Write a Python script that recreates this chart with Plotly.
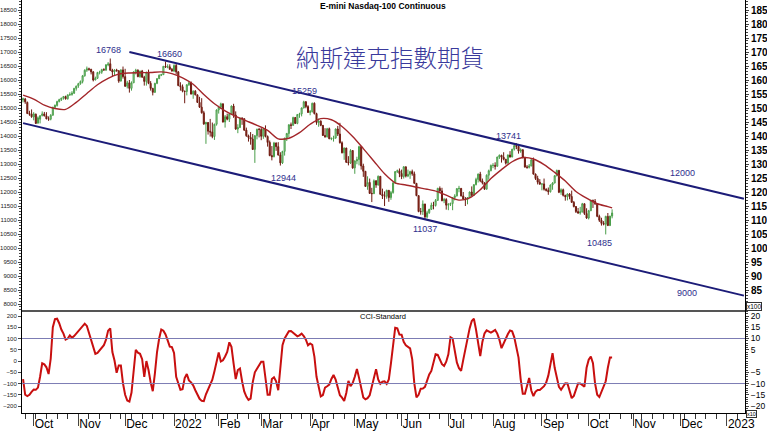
import pandas as pd
import plotly.graph_objects as go

# Trading sessions (weekdays) from the first bar through the end of the visible axis
sessions = pd.bdate_range("2021-09-24", "2023-01-31")

def pos(d):
    return int(sessions.searchsorted(pd.Timestamp(d)))

# Daily OHLC, E-mini Nasdaq-100 continuous (Sep 24 2021 - Oct 18 2022)
opens = (
    [15290, 15320, 15200, 14800, 14790]
    + [14680, 14780, 14460, 14600, 14730, 14790, 14720, 14610, 14600, 14740, 15020, 15090, 15230, 15300, 15350, 15410, 15330, 15470, 15480, 15530, 15700]
    + [15790, 15870, 15950, 16150, 16350, 16400, 16380, 16290, 16000, 16060, 16270, 16280, 16370, 16360, 16540, 16580, 16350, 16290, 16360, 16330, 15960, 16360]
    + [16120, 15780, 15900, 15700, 15900, 16290, 16350, 16120, 16320, 16100, 15950, 16270, 15880, 15700, 15560, 15880, 16050, 16170, 16190, 16490, 16460, 16470, 16380]
    + [16320, 16520, 16290, 15800, 15760, 15600, 15590, 15830, 15900, 15500, 15600, 15470, 15200, 15030, 14830, 14430, 14480, 14170, 14140, 13980, 14420]
    + [14930, 15030, 15150, 14500, 14690, 14600, 14780, 15070, 14750, 14250, 14300, 14640, 14620, 14210, 14010, 13950, 13890, 13520, 14010, 14240]
    + [14230, 13990, 14250, 13980, 13770, 13300, 13260, 13750, 13620, 13320, 13040, 13450, 13920, 14090, 14400, 14380, 14660, 14450, 14770, 14790, 15000, 15220, 15050]
    + [14840, 14870, 15170, 14800, 14480, 14530, 14380, 14020, 13970, 14260, 13900, 13910, 13930, 14250, 14070, 13760, 13400, 13570, 13060, 13040, 13480]
    + [12860, 13110, 13160, 13620, 12930, 12740, 12200, 12340, 11950, 11940, 12400, 12250, 12560, 11920, 11860, 11850, 12060, 11800, 11980, 12320, 12730, 12760]
    + [12660, 12550, 12900, 12570, 12630, 12730, 12650, 12310, 11870, 11300, 11300, 11570, 11110, 11260, 11380, 11530, 11520, 11700, 12130, 12040, 11690, 11730]
    + [11530, 11560, 11590, 11800, 11860, 12120, 12130, 11860, 11750, 11730, 11800, 12000, 11880, 12260, 12450, 12640, 12400, 12330, 12100, 12600, 12760]
    + [12950, 12950, 12920, 13250, 13310, 13240, 13170, 13030, 13320, 13250, 13530, 13660, 13630, 13460, 13510, 13240, 12890, 12880, 12930, 13150, 12640, 12480, 12350]
    + [12280, 12290, 12100, 12060, 12010, 12250, 12320, 12580, 12770, 11990, 12080, 11880, 11830, 11930, 11840, 11630, 11480, 11300, 11250, 11290, 11580, 11230]
    + [11070, 11330, 11700, 11670, 11580, 11130, 10990, 10880, 10850, 11130, 10800, 11140]
)
highs = (
    [15370, 15360, 15230, 14900, 14950]
    + [14850, 14800, 14700, 14750, 14880, 14860, 14850, 14700, 14780, 15050, 15120, 15260, 15330, 15370, 15430, 15440, 15480, 15560, 15600, 15720, 15800]
    + [15900, 15980, 16180, 16380, 16480, 16440, 16400, 16320, 16120, 16290, 16330, 16400, 16420, 16570, 16640, 16768, 16400, 16380, 16400, 16350, 16380, 16480]
    + [16400, 15970, 16000, 15950, 16310, 16400, 16380, 16330, 16360, 16150, 16300, 16370, 15960, 15720, 15900, 16060, 16200, 16220, 16500, 16660, 16560, 16560, 16430]
    + [16560, 16580, 16320, 15920, 15840, 15620, 15850, 15970, 15950, 15630, 15640, 15480, 15400, 15350, 14900, 14510, 14500, 14610, 14480, 14440, 14950]
    + [15080, 15190, 15160, 14750, 14800, 14800, 15090, 15150, 14880, 14420, 14660, 14670, 14630, 14300, 14050, 14140, 14070, 14030, 14260, 14290]
    + [14300, 14290, 14380, 14020, 13840, 13640, 13790, 13770, 13780, 13420, 13470, 13940, 14110, 14420, 14480, 14690, 14680, 14780, 14830, 15020, 15259, 15250, 15100]
    + [14930, 15190, 15200, 14830, 14620, 14560, 14390, 14280, 14290, 14300, 13950, 14010, 14270, 14360, 14470, 13810, 13590, 13580, 13280, 13530, 13500]
    + [13130, 13260, 13650, 13640, 13010, 12750, 12560, 12480, 12150, 12450, 12420, 12590, 12570, 12120, 12020, 12080, 12070, 12040, 12360, 12740, 12800, 12840]
    + [12800, 12920, 12910, 12800, 12760, 12800, 12730, 12320, 11880, 11430, 11700, 11580, 11330, 11400, 11620, 11650, 11750, 12150, 12200, 12150, 11790, 11780]
    + [11600, 11620, 11810, 11920, 12140, 12220, 12140, 12000, 11820, 11820, 12020, 12200, 12280, 12510, 12660, 12720, 12480, 12340, 12630, 12800, 12980]
    + [13030, 13060, 13260, 13340, 13330, 13420, 13180, 13340, 13460, 13540, 13680, 13741, 13640, 13560, 13520, 13250, 12960, 13000, 13170, 13230, 12660, 12580, 12460]
    + [12300, 12480, 12130, 12160, 12270, 12350, 12600, 12800, 12790, 12130, 12120, 11900, 11950, 11960, 12050, 11680, 11500, 11430, 11470, 11610, 11590, 11420]
    + [11360, 11720, 11730, 11750, 11590, 11190, 11080, 10960, 11150, 11250, 11150, 11380]
)
lows = (
    [15200, 15150, 14790, 14720, 14650]
    + [14560, 14430, 14440, 14450, 14700, 14700, 14600, 14540, 14560, 14730, 14990, 15050, 15200, 15250, 15300, 15300, 15300, 15430, 15440, 15500, 15620]
    + [15720, 15830, 15880, 16120, 16290, 16330, 16200, 15950, 15990, 16040, 16200, 16220, 16330, 16320, 16490, 16320, 16140, 16140, 16300, 15900, 15950, 16050]
    + [15750, 15700, 15550, 15620, 15890, 16200, 16100, 16080, 16080, 15800, 15800, 15850, 15620, 15450, 15540, 15850, 16030, 16140, 16180, 16440, 16420, 16370, 16300]
    + [16280, 16200, 15780, 15620, 15560, 15170, 15450, 15790, 15480, 15330, 15450, 15180, 15000, 14800, 14400, 13720, 14050, 13980, 13920, 13860, 14370]
    + [14800, 14960, 14480, 14300, 14560, 14500, 14770, 14650, 14220, 14100, 14290, 14400, 14180, 13970, 13800, 13690, 13500, 13040, 13880, 13950]
    + [13850, 13900, 13950, 13620, 13280, 13130, 13240, 13470, 13300, 12944, 13000, 13300, 13820, 13950, 14250, 14370, 14430, 14420, 14650, 14700, 14990, 14990, 14830]
    + [14740, 14840, 14770, 14400, 14330, 14350, 14000, 13940, 13950, 13890, 13850, 13800, 13900, 14000, 13730, 13380, 13150, 13040, 12950, 13000, 12830]
    + [12650, 12990, 12950, 12800, 12540, 12180, 12080, 11930, 11640, 11930, 12150, 12230, 11900, 11750, 11500, 11760, 11650, 11720, 11940, 12300, 12680, 12530]
    + [12460, 12480, 12520, 12530, 12470, 12580, 12300, 11850, 11280, 11190, 11180, 11037, 11060, 11220, 11360, 11380, 11480, 11690, 11980, 11670, 11600, 11370]
    + [11350, 11500, 11350, 11700, 11840, 11990, 11840, 11720, 11500, 11560, 11790, 11860, 11870, 12240, 12340, 12350, 12270, 12080, 12090, 12440, 12740]
    + [12850, 12800, 12900, 13180, 13050, 13130, 12980, 13020, 13230, 13240, 13480, 13530, 13370, 13400, 13200, 12870, 12830, 12840, 12920, 12620, 12430, 12270, 12260]
    + [12060, 12050, 12020, 11900, 11980, 12080, 12310, 12560, 11960, 11900, 11840, 11690, 11700, 11740, 11610, 11450, 11250, 11220, 11190, 11270, 11180, 11040]
    + [11020, 11320, 11430, 11540, 11100, 10930, 10800, 10810, 10485, 10790, 10790, 11060]
)
closes = (
    [15330, 15220, 14800, 14780, 14690]
    + [14790, 14450, 14650, 14720, 14790, 14720, 14610, 14600, 14740, 15020, 15100, 15230, 15300, 15350, 15410, 15330, 15470, 15480, 15530, 15700, 15780]
    + [15870, 15950, 16150, 16350, 16400, 16380, 16290, 16000, 16060, 16270, 16280, 16370, 16360, 16540, 16570, 16350, 16290, 16360, 16330, 15960, 16360, 16120]
    + [15780, 15900, 15700, 15900, 16290, 16350, 16120, 16320, 16100, 15950, 16270, 15880, 15700, 15560, 15880, 16050, 16170, 16190, 16490, 16460, 16470, 16380, 16320]
    + [16520, 16290, 15800, 15760, 15600, 15590, 15830, 15900, 15500, 15600, 15470, 15200, 15030, 14830, 14430, 14480, 14170, 14140, 13980, 14420, 14930]
    + [15030, 15150, 14500, 14690, 14600, 14780, 15070, 14750, 14250, 14300, 14640, 14620, 14210, 14010, 13950, 13890, 13520, 14010, 14240, 14230]
    + [13990, 14250, 13980, 13770, 13300, 13260, 13750, 13620, 13320, 13040, 13450, 13920, 14090, 14400, 14380, 14660, 14450, 14770, 14790, 15000, 15220, 15050, 14840]
    + [14870, 15170, 14800, 14480, 14530, 14380, 14020, 13970, 14260, 13900, 13910, 13930, 14250, 14070, 13760, 13400, 13570, 13060, 13040, 13480, 12860]
    + [13110, 13160, 13620, 12930, 12740, 12200, 12340, 11950, 11940, 12400, 12250, 12560, 11920, 11860, 11850, 12060, 11800, 11980, 12320, 12730, 12760, 12660]
    + [12550, 12900, 12570, 12630, 12730, 12650, 12310, 11870, 11300, 11300, 11570, 11110, 11260, 11380, 11530, 11520, 11700, 12130, 12040, 11690, 11730, 11530]
    + [11560, 11590, 11800, 11860, 12120, 12130, 11860, 11750, 11730, 11800, 12000, 11880, 12260, 12450, 12640, 12400, 12330, 12100, 12600, 12760, 12950]
    + [12950, 12920, 13250, 13310, 13240, 13170, 13030, 13320, 13250, 13530, 13660, 13630, 13460, 13510, 13240, 12890, 12880, 12930, 13150, 12640, 12480, 12350, 12280]
    + [12290, 12100, 12060, 12010, 12250, 12320, 12580, 12770, 11990, 12080, 11880, 11830, 11930, 11840, 11630, 11480, 11300, 11250, 11290, 11580, 11230, 11070]
    + [11330, 11700, 11670, 11580, 11130, 10990, 10880, 10850, 11130, 10800, 11140, 11250]
)

# Moving average, read once a week (every 5th session) plus the last session
ma_values = [
    15460, 15320, 15100, 14980, 14950, 15200, 15520, 15830, 16060, 16210,
    16250, 16260, 16270, 16290, 16230, 16080, 15850, 15480, 15150, 14900,
    14700, 14540, 14380, 14200, 13900, 13920, 14120, 14420, 14620, 14580,
    14340, 13980, 13550, 13100, 12650, 12330, 12250, 12170, 12100, 12010,
    11850, 11710, 11790, 12080, 12480, 12800, 13080, 13230, 13180, 12980,
    12700, 12390, 12020, 11780, 11580, 11480, 11430,
]

# CCI-Standard, one value per session
cci = [
    -80, -150, -156, -150, -137, -127, -128, -118, -70, -10,
    -15, -28, -58, 10, 150, 186, 188, 168, 140, 122,
    95, 100, 114, 103, 111, 122, 130, 140, 152, 166,
    156, 125, 90, 52, 32, 36, 46, 56, 70, 95,
    135, 145, 40, 2, -52, -20, -20, -100, -150, -176,
    -180, -140, -40, 50, 37, 32, 8, -70, 0, -40,
    -95, -134, -55, 40, 100, 140, 135, 118, 92, 64,
    62, 36, -70, -104, -128, -125, -76, -58, -86, -95,
    -108, -130, -152, -168, -177, -178, -148, -125, -107, -83,
    -45, 4, 38, -2, 3, 20, 40, 83, 63, -10,
    -80, -40, -33, -90, -135, -158, -173, -167, -95, -50,
    -35, -20, -3, -3, -70, -150, -150, -80, -72, -90,
    -130, -20, 70, 100, 115, 132, 133, 125, 116, 110,
    114, 122, 111, 95, 70, 78, 72, 20, -70, -115,
    -157, -151, -118, -112, -105, -80, -62, -83, -118, -152,
    -163, -178, -142, -88, -112, -98, -70, -35, -75, -120,
    -162, -170, -165, -152, -115, -70, -36, -82, -101, -92,
    -90, -102, -82, -10, 80, 148, 145, 118, 117, 85,
    70, 62, 56, 8, -100, -162, -150, -123, -122, -115,
    -82, -60, -44, -6, 30, 27, 4, -14, -22, -3,
    30, 106, 100, 48, -6, -32, -44, 5, 55, 90,
    145, 178, 188, 140, 84, 22, 85, 123, 136, 132,
    126, 132, 138, 122, 95, 57, 80, 98, 120, 136,
    132, 105, 60, 15, -80, -146, -146, -115, -75, -131,
    -156, -136, -129, -129, -121, -112, -96, -65, -15, 35,
    -30, -80, -115, -128, -110, -99, -100, -134, -165, -155,
    -130, -100, -100, -109, -114, -30, 6, 20, -10, -100,
    -150, -160, -138, -113, -90, -30, 16, 16,
]

# Trend channel anchors (date, price)
upper_channel_dates = ["2021-12-03", "2023-01-12"]
upper_channel_values = [17000, 11760]
lower_channel_dates = ["2021-09-24", "2023-01-12"]
lower_channel_values = [14460, 8300]

# Swing highs / lows that get labelled
swing_dates = ["2021-11-22", "2021-12-28", "2022-03-29", "2022-03-14", "2022-06-16", "2022-08-16", "2022-10-13"]
swing_values = [16768, 16660, 15259, 12944, 11037, 13741, 10485]
swing_is_high = [True, True, True, False, False, True, False]

# Month axis
month_dates = ["2021-10-01", "2021-11-01", "2021-12-01", "2022-01-03", "2022-02-01", "2022-03-01",
               "2022-04-01", "2022-05-02", "2022-06-01", "2022-07-01", "2022-08-01", "2022-09-01",
               "2022-10-03", "2022-11-01", "2022-12-01", "2023-01-02"]
month_labels = ["Oct", "Nov", "Dec", "2022", "Feb", "Mar", "Apr", "May", "Jun", "Jul", "Aug", "Sep",
                "Oct", "Nov", "Dec", "2023"]

n = len(closes)
xs = list(range(n))
ma_x = list(range(0, n, 5)) + [n - 1]
month_pos = [pos(d) for d in month_dates]

NAVY = "#1c1c78"
LABEL_BLUE = "#2e2e8c"
FONT = "Liberation Sans, Arial, sans-serif"

X_RANGE = [-0.5, 339.5]
MAIN_RANGE = [7786, 18857]
CCI_RANGE = [-231, 226.7]
split = 103 / 413

fig = go.Figure()

fig.add_trace(go.Candlestick(
    x=xs, open=opens, high=highs, low=lows, close=closes,
    xaxis="x", yaxis="y",
    increasing=dict(line=dict(color="#4a9e4a", width=1), fillcolor="#bfe5bf"),
    decreasing=dict(line=dict(color="#6e1a10", width=1), fillcolor="#9a2a18"),
    whiskerwidth=0, hoverinfo="skip", name="NQ",
))

fig.add_trace(go.Scatter(
    x=ma_x, y=ma_values, mode="lines", xaxis="x", yaxis="y",
    line=dict(color="#a3262a", width=1.4, shape="spline", smoothing=0.8),
    hoverinfo="skip", name="MA",
))

fig.add_trace(go.Scatter(
    x=[pos(d) for d in upper_channel_dates], y=upper_channel_values, mode="lines",
    xaxis="x", yaxis="y", line=dict(color=NAVY, width=2), hoverinfo="skip",
))
fig.add_trace(go.Scatter(
    x=[pos(d) for d in lower_channel_dates], y=lower_channel_values, mode="lines",
    xaxis="x", yaxis="y", line=dict(color=NAVY, width=2), hoverinfo="skip",
))

fig.add_trace(go.Scatter(
    x=xs, y=cci, mode="lines", xaxis="x2", yaxis="y3",
    line=dict(color="#c80f0f", width=2), hoverinfo="skip", name="CCI",
))

# Empty traces so the right-hand scale axes (x100 / x10) get drawn
fig.add_trace(go.Scatter(x=[], y=[], xaxis="x", yaxis="y2", hoverinfo="skip"))
fig.add_trace(go.Scatter(x=[], y=[], xaxis="x2", yaxis="y4", hoverinfo="skip"))

annotations = []
shifts = [(-2, 1), (4, 1), (1, 3), (3, -5), (0, -3), (-8, 0), (-6, -2)]
for d, v, hi, (dx, dy) in zip(swing_dates, swing_values, swing_is_high, shifts):
    annotations.append(dict(
        x=pos(d), y=v, xref="x", yref="y", text=str(v), showarrow=False,
        yanchor="bottom" if hi else "top", xshift=dx, yshift=dy,
        font=dict(size=9, color=LABEL_BLUE, family=FONT),
    ))

annotations += [
    dict(x=pos("2022-12-02"), y=12680, xref="x", yref="y", text="12000", showarrow=False,
         font=dict(size=9, color=LABEL_BLUE, family=FONT)),
    dict(x=pos("2022-12-06"), y=8390, xref="x", yref="y", text="9000", showarrow=False,
         font=dict(size=9, color=LABEL_BLUE, family=FONT)),
    dict(x=(383 - 22) / 723, y=1 - 6 / 413, xref="paper", yref="paper",
         xanchor="center", yanchor="middle",
         text="<b>E-mini Nasdaq-100 Continuous</b>", showarrow=False,
         font=dict(size=8.5, color="black", family=FONT)),
    dict(x=(390 - 22) / 723, y=1 - 57 / 413, xref="paper", yref="paper",
         xanchor="center", yanchor="middle",
         text="納斯達克指數期貨", showarrow=False,
         font=dict(size=23.5, color="#3a3a9c", family="Noto Sans CJK TC", weight=300)),
    dict(x=(383 - 22) / 723, y=1 - 316 / 413, xref="paper", yref="paper",
         xanchor="center", yanchor="middle",
         text="CCI-Standard", showarrow=False,
         font=dict(size=7.5, color="black", family=FONT)),
    dict(x=(746 - 22) / 723, y=1 - 306 / 413, xref="paper", yref="paper",
         xanchor="left", yanchor="middle",
         text="x100", showarrow=False, bgcolor="white", bordercolor="#333", borderwidth=1, borderpad=0,
         font=dict(size=6.5, color="black", family=FONT)),
    dict(x=(746 - 22) / 723, y=1 - 414.5 / 413, xref="paper", yref="paper",
         xanchor="left", yanchor="middle",
         text="x10", showarrow=False, bgcolor="white", bordercolor="#333", borderwidth=1, borderpad=0,
         font=dict(size=5.5, color="black", family=FONT)),
]

shapes = [
    dict(type="line", xref="paper", yref="y3", x0=0, x1=1, y0=100, y1=100,
         line=dict(color="#7c7cb4", width=1)),
    dict(type="line", xref="paper", yref="y3", x0=0, x1=1, y0=-100, y1=-100,
         line=dict(color="#7c7cb4", width=1)),
]

fig.update_layout(
    width=767, height=431,
    margin=dict(l=22, r=22, t=0, b=18),
    paper_bgcolor="white", plot_bgcolor="white",
    showlegend=False,
    font=dict(family=FONT, color="black"),
    annotations=annotations, shapes=shapes,
    xaxis=dict(
        domain=[0, 1], anchor="y", range=X_RANGE, showticklabels=False,
        ticks="", showline=True, linecolor="#555555", linewidth=2,
        showgrid=False, zeroline=False, rangeslider=dict(visible=False), fixedrange=True,
    ),
    yaxis=dict(
        domain=[split, 1], anchor="x", range=MAIN_RANGE, tickformat="d",
        tickvals=list(range(8000, 18501, 500)), ticks="outside", ticklen=3, tickwidth=1,
        tickfont=dict(size=6, color="#222"), showline=True, linecolor="black", linewidth=1,
        minor=dict(dtick=100, ticks="outside", ticklen=2, tickcolor="#444"),
        showgrid=False, zeroline=False,
    ),
    yaxis2=dict(
        overlaying="y", anchor="x", side="right", range=[v / 100 for v in MAIN_RANGE],
        tickvals=list(range(85, 186, 5)), ticks="outside", ticklen=3, tickformat="d",
        tickfont=dict(size=10, color="black", weight="bold"),
        showline=True, linecolor="black", linewidth=1,
        minor=dict(dtick=1, ticks="outside", ticklen=2, tickcolor="#444"),
        showgrid=False, zeroline=False,
    ),
    xaxis2=dict(
        domain=[0, 1], anchor="y3", range=X_RANGE, matches="x",
        tickmode="array", tickvals=month_pos, ticktext=month_labels,
        ticks="outside", ticklen=12, tickwidth=1, ticklabelposition="outside right",
        tickfont=dict(size=12, color="black"),
        minor=dict(tick0=1, dtick=5, ticks="outside", ticklen=5, tickcolor="#333"),
        showline=True, linecolor="black", linewidth=1, showgrid=False, zeroline=False,
    ),
    yaxis3=dict(
        domain=[0, split], anchor="x2", range=CCI_RANGE, tickformat="d",
        tickvals=list(range(-200, 201, 50)), ticks="outside", ticklen=3,
        tickfont=dict(size=6, color="#222"), showline=True, linecolor="black", linewidth=1,
        showgrid=False, zeroline=False,
    ),
    yaxis4=dict(
        overlaying="y3", anchor="x2", side="right", range=[v / 10 for v in CCI_RANGE],
        tickvals=[20, 15, 10, 5, -5, -10, -15, -20], ticks="outside", ticklen=3, tickformat="d",
        tickfont=dict(size=8.5, color="black"), showline=True, linecolor="black", linewidth=1,
        minor=dict(dtick=1, ticks="outside", ticklen=2, tickcolor="#444"),
        showgrid=False, zeroline=False,
    ),
)

fig.write_html("out.html")
